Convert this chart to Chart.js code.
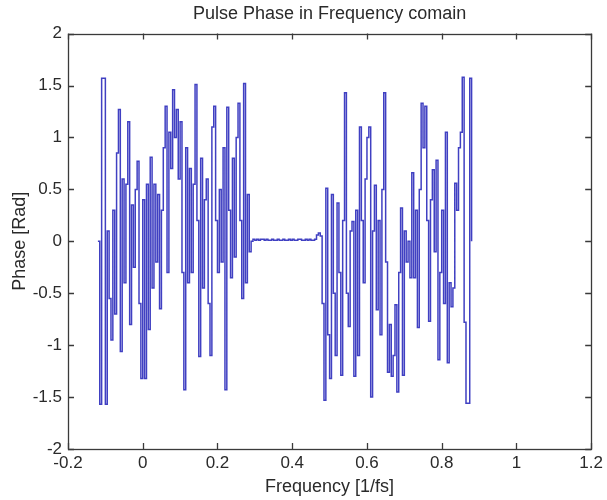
<!DOCTYPE html>
<html><head><meta charset="utf-8">
<script src="https://cdn.jsdelivr.net/npm/chart.js@4.4.1/dist/chart.umd.min.js"></script>
<style>html,body{margin:0;padding:0;background:#fff;}#wrap{width:607px;height:500px;}</style>
</head><body><div id="wrap"><canvas id="c" width="607" height="500"></canvas></div>
<script>
// Frequency bins [1/fs]
const frequency = [
-0.12,-0.115,-0.11,-0.105,-0.1,-0.095,-0.09,-0.085,-0.08,-0.075,-0.07,-0.065,-0.06,-0.055,-0.05,-0.045,-0.04,-0.035,-0.03,-0.025,
-0.02,-0.015,-0.01,-0.005,0,0.005,0.01,0.015,0.02,0.025,0.03,0.035,0.04,0.045,0.05,0.055,0.06,0.065,0.07,0.075,
0.08,0.085,0.09,0.095,0.1,0.105,0.11,0.115,0.12,0.125,0.13,0.135,0.14,0.145,0.15,0.155,0.16,0.165,0.17,0.175,
0.18,0.185,0.19,0.195,0.2,0.205,0.21,0.215,0.22,0.225,0.23,0.235,0.24,0.245,0.25,0.255,0.26,0.265,0.27,0.275,
0.28,0.285,0.29,0.295,0.3,0.305,0.31,0.315,0.32,0.325,0.33,0.335,0.34,0.345,0.35,0.355,0.36,0.365,0.37,0.375,
0.38,0.385,0.39,0.395,0.4,0.405,0.41,0.415,0.42,0.425,0.43,0.435,0.44,0.445,0.45,0.455,0.46,0.465,0.47,0.475,
0.48,0.485,0.49,0.495,0.5,0.505,0.51,0.515,0.52,0.525,0.53,0.535,0.54,0.545,0.55,0.555,0.56,0.565,0.57,0.575,
0.58,0.585,0.59,0.595,0.6,0.605,0.61,0.615,0.62,0.625,0.63,0.635,0.64,0.645,0.65,0.655,0.66,0.665,0.67,0.675,
0.68,0.685,0.69,0.695,0.7,0.705,0.71,0.715,0.72,0.725,0.73,0.735,0.74,0.745,0.75,0.755,0.76,0.765,0.77,0.775,
0.78,0.785,0.79,0.795,0.8,0.805,0.81,0.815,0.82,0.825,0.83,0.835,0.84,0.845,0.85,0.855,0.86,0.865,0.87,0.875,
0.88
];
// Phase [Rad]
const phase = [
0,-1.57,1.57,1.57,-1.57,0.1,-0.55,-0.95,0.3,-0.7,0.85,1.27,-1.06,0.6,-0.4,0.55,1.15,-0.8,0.35,-0.25,
0.5,0.77,-0.6,-1.32,0.4,-1.32,0.55,-0.85,0.81,-0.45,0.55,-0.2,0.45,-0.65,0.3,0.9,1.3,-0.3,1.05,0.7,
1.46,1.0,1.27,0.6,1.15,-0.3,-1.43,0.9,-0.4,0.7,-0.3,0.55,1.51,0.2,-1.11,0.8,-0.45,0.4,0.6,-0.6,
-1.1,1.1,1.3,0.2,-0.3,0.5,-0.2,0.9,-1.43,1.29,0.3,-0.35,0.8,-0.15,1.0,1.33,0.2,-0.55,1.52,-0.4,
0.45,-0.1,0.0,0.02,0.01,0.02,0.01,0.02,0.02,0.01,0.02,0.01,0.01,0.02,0.01,0.01,0.02,0.01,0.01,0.02,
0.01,0.01,0.02,0.01,0.02,0.01,0.01,0.02,0.02,0.01,0.01,0.02,0.01,0.02,0.01,0.01,0.02,0.06,0.08,0.05,
-0.6,-1.53,0.51,-0.9,-1.32,0.45,-0.5,-1.1,0.37,-0.3,-1.29,0.2,1.43,-0.5,-0.82,0.1,0.19,-1.3,0.3,-1.1,
1.1,0.2,-0.4,0.6,1.0,1.1,-1.5,0.1,0.54,-0.66,0.2,-0.9,0.5,1.43,-0.2,-1.26,-0.8,-1.3,-1.1,-0.61,
-1.45,-0.3,0.32,-1.29,0.1,-0.2,0.0,-0.35,0.66,-0.35,0.3,-0.83,0.5,1.33,0.9,1.3,0.2,-0.77,0.4,0.69,
-0.1,0.78,-1.14,-0.3,0.3,-0.6,1.05,-1.17,-0.4,-0.63,-0.45,0.56,0.3,0.9,1.05,1.58,-0.78,-1.56,-1.56,1.57,
0.0
];
const xTicks = [-0.2,0,0.2,0.4,0.6,0.8,1,1.2];
const yTicks = [-2,-1.5,-1,-0.5,0,0.5,1,1.5,2];
const titleText = 'Pulse Phase in Frequency comain';
const xLabel = 'Frequency [1/fs]';
const yLabel = 'Phase [Rad]';

const FONT = '"Liberation Sans", Arial, Helvetica, sans-serif';
const TXT = '#2a2a2a';
const AX = '#3a3a3a';

const framePlugin = {
  id: 'frame',
  afterDraw(chart) {
    const {ctx, chartArea: a, scales} = chart;
    ctx.save();
    ctx.strokeStyle = AX;
    ctx.lineWidth = 1.3;
    ctx.strokeRect(Math.round(a.left)+0.5, Math.round(a.top)+0.5, Math.round(a.right-a.left), Math.round(a.bottom-a.top));
    const L = 6;
    ctx.beginPath();
    xTicks.forEach(v => {
      const px = Math.round(scales.x.getPixelForValue(v)) + 0.5;
      ctx.moveTo(px, a.bottom); ctx.lineTo(px, a.bottom - L);
      ctx.moveTo(px, a.top); ctx.lineTo(px, a.top + L);
    });
    yTicks.forEach(v => {
      const py = Math.round(scales.y.getPixelForValue(v)) + 0.5;
      ctx.moveTo(a.left, py); ctx.lineTo(a.left + L, py);
      ctx.moveTo(a.right, py); ctx.lineTo(a.right - L, py);
    });
    ctx.stroke();
    ctx.restore();
  }
};

new Chart(document.getElementById('c'), {
  type: 'line',
  data: {
    datasets: [{
      data: frequency.map((f, i) => ({x: f, y: phase[i]})),
      borderColor: '#4040c2',
      borderWidth: 1.5,
      pointRadius: 0,
      stepped: true,
      tension: 0,
      fill: false
    }]
  },
  options: {
    responsive: false,
    animation: false,
    events: [],
    layout: {padding: {left: 0, right: 12, top: 0, bottom: 0}},
    plugins: {
      legend: {display: false},
      tooltip: {enabled: false},
      title: {
        display: true, text: titleText, fullSize: false, color: TXT,
        font: {family: FONT, size: 18, weight: 'normal'},
        padding: {top: 3, bottom: 9}
      }
    },
    scales: {
      x: {
        type: 'linear', min: -0.2, max: 1.2,
        afterBuildTicks: s => { s.ticks = xTicks.map(v => ({value: v})); },
        afterFit: s => { s.height = 51; },
        grid: {display: false, drawTicks: false}, border: {display: false},
        ticks: {color: TXT, font: {family: FONT, size: 17}, padding: 4, maxRotation: 0, autoSkip: false,
                callback: v => String(v)},
        title: {display: true, text: xLabel, color: TXT, font: {family: FONT, size: 18}, padding: {top: 0, bottom: 2}}
      },
      y: {
        type: 'linear', min: -2, max: 2,
        afterBuildTicks: s => { s.ticks = yTicks.map(v => ({value: v})); },
        afterFit: s => { s.width = 68; },
        grid: {display: false, drawTicks: false}, border: {display: false},
        ticks: {color: TXT, font: {family: FONT, size: 17}, padding: 6, autoSkip: false,
                callback: v => String(v)},
        title: {display: true, text: yLabel, color: TXT, font: {family: FONT, size: 18}, padding: {top: 9, bottom: 0}}
      }
    }
  },
  plugins: [framePlugin]
});
</script>
</body></html>
